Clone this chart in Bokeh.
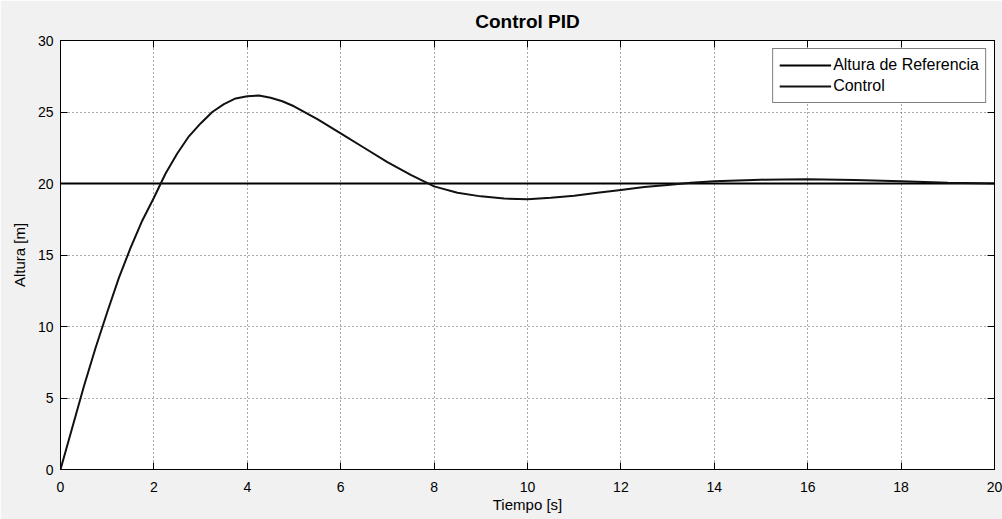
from bokeh.plotting import figure
from bokeh.models import LinearAxis, FixedTicker, Range1d, Legend, LegendItem
from bokeh.embed import file_html
from bokeh.resources import INLINE

# ---- data ----
tiempo_s = [0, 0.25, 0.5, 0.75, 1, 1.25, 1.5, 1.75, 2, 2.25, 2.5, 2.75, 3, 3.25, 3.5,
            3.75, 4, 4.25, 4.5, 4.75, 5, 5.5, 6, 6.5, 7, 7.5, 8, 8.5, 9, 9.5, 10,
            10.5, 11, 11.5, 12, 12.5, 13, 13.5, 14, 15, 16, 17, 18, 19, 20]
altura_control = [0, 2.9, 5.8, 8.5, 11.0, 13.4, 15.5, 17.4, 19.0, 20.7, 22.1, 23.3,
                  24.2, 25.0, 25.55, 25.95, 26.1, 26.15, 26.0, 25.75, 25.4, 24.5,
                  23.5, 22.5, 21.5, 20.6, 19.8, 19.35, 19.1, 18.95, 18.9, 19.0,
                  19.15, 19.35, 19.55, 19.75, 19.9, 20.05, 20.15, 20.27, 20.3,
                  20.25, 20.15, 20.05, 20.0]
ref_tiempo = [0, 20]
ref_altura = [20, 20]
x_ticks = [0, 2, 4, 6, 8, 10, 12, 14, 16, 18, 20]
y_ticks = [0, 5, 10, 15, 20, 25, 30]

FONT = "Liberation Sans"

p = figure(width=1002, height=519, output_backend="svg", toolbar_location=None,
           x_range=Range1d(0, 20), y_range=Range1d(0, 30),
           min_border_left=60, min_border_right=8, min_border_top=40, min_border_bottom=50,
           title="Control PID")

p.background_fill_color = "white"
p.border_fill_color = "#f1f1f1"
p.outline_line_color = "black"
p.outline_line_width = 1

p.title.align = "center"
p.title.text_font = FONT
p.title.text_font_size = "19px"
p.title.text_font_style = "bold"
p.title.text_color = "black"
p.title.standoff = 17

for ax in (p.xaxis[0], p.yaxis[0]):
    ax.major_tick_in = 7
    ax.major_tick_out = 0
    ax.minor_tick_line_color = None
    ax.major_label_text_font = FONT
    ax.major_label_text_font_size = "14px"
    ax.major_label_text_color = "black"
    ax.axis_label_text_font = FONT
    ax.axis_label_text_font_size = "15px"
    ax.axis_label_text_font_style = "normal"
    ax.axis_label_text_color = "black"
    ax.axis_line_color = "black"
    ax.major_tick_line_color = "black"

p.xaxis[0].ticker = FixedTicker(ticks=x_ticks)
p.yaxis[0].ticker = FixedTicker(ticks=y_ticks)
p.xaxis[0].axis_label = "Tiempo [s]"
p.yaxis[0].axis_label = "Altura [m]"
p.xaxis[0].major_label_standoff = 12
p.xaxis[0].axis_label_standoff = 1
p.yaxis[0].major_label_standoff = 7
p.yaxis[0].axis_label_standoff = 7

# mirrored ticks on top and right (MATLAB box style)
top_ax = LinearAxis(ticker=FixedTicker(ticks=x_ticks), major_label_text_font_size="0px",
                    major_label_standoff=0, major_tick_in=7, major_tick_out=0,
                    minor_tick_line_color=None, axis_line_color="black")
right_ax = LinearAxis(ticker=FixedTicker(ticks=y_ticks), major_label_text_font_size="0px",
                      major_label_standoff=0, major_tick_in=7, major_tick_out=0,
                      minor_tick_line_color=None, axis_line_color="black")
p.add_layout(top_ax, "above")
p.add_layout(right_ax, "right")

p.xgrid.ticker = FixedTicker(ticks=x_ticks)
p.ygrid.ticker = FixedTicker(ticks=y_ticks)
for g in (p.xgrid[0], p.ygrid[0]):
    g.grid_line_color = "#555555"
    g.grid_line_dash = "1 3"
    g.grid_line_width = 1

r_ref = p.line(ref_tiempo, ref_altura, line_color="black", line_width=2)
r_ctl = p.line(tiempo_s, altura_control, line_color="#111111", line_width=2)

legend = Legend(items=[LegendItem(label="Altura de Referencia", renderers=[r_ref]),
                       LegendItem(label="Control", renderers=[r_ctl])],
                location="top_right")
legend.margin = 8
legend.padding = 6
legend.spacing = 1
legend.label_height = 20
legend.glyph_height = 20
legend.glyph_width = 52
legend.label_standoff = 2
legend.label_text_font = FONT
legend.label_text_font_size = "16px"
legend.label_text_color = "black"
legend.border_line_color = "black"
legend.border_line_width = 1.5
legend.background_fill_color = "white"
legend.background_fill_alpha = 1
p.add_layout(legend)

open("out.html", "w").write(file_html(p, INLINE))
